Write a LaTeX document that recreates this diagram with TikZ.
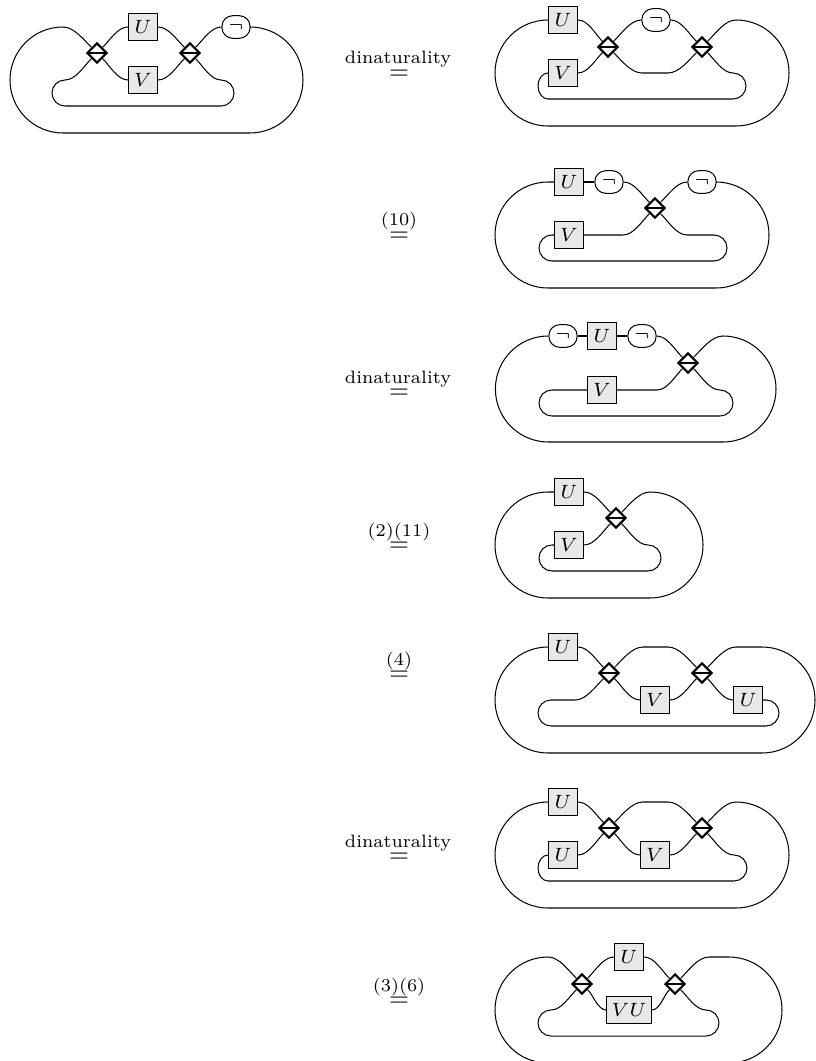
\documentclass[tikz,border=0pt]{standalone}
\usepackage{fix-cm}
\usepackage{amsmath,amssymb}
\usepackage{tikz}
\usetikzlibrary{positioning,shapes.geometric}
\begin{document}
\begin{tikzpicture}[x=0.39pt,y=0.39pt,line width=0.4pt,looseness=0.8,
  box/.style={draw,fill=black!9,inner sep=0pt,minimum width=11.3pt,minimum height=10.2pt,
    font=\fontsize{7.5}{9}\selectfont},
  widebox/.style={box,minimum width=17.2pt},
  negbox/.style={draw,fill=white,rounded corners=4.2pt,inner sep=0pt,minimum width=11pt,
    minimum height=8.8pt,font=\fontsize{7.5}{9}\selectfont},
  dia/.style={diamond,draw,fill=white,line width=0.8pt,inner sep=0pt,minimum width=7.8pt,
    minimum height=7.8pt,path picture={\draw[line width=0.8pt]
    (path picture bounding box.west) -- (path picture bounding box.east);}},
  eqsign/.style={anchor=base,inner sep=0pt},
  eqtext/.style={anchor=base,inner sep=0pt,font=\scriptsize}]
  \useasboundingbox (0,0) rectangle (815,-1061);

  \coordinate (ota) at (63,-27);
  \coordinate (oba) at (250,-133);
  \coordinate (ita) at (65,-80);
  \coordinate (iba) at (221,-106);
  \node[box] (ua) at (143,-27) {$U$};
  \node[box] (va) at (143,-80) {$V$};
  \node[negbox] (na) at (236,-27) {$\neg$};
  \node[dia] (pa) at (97,-53) {};
  \node[dia] (qa) at (190,-53) {};
  \draw (pa) to[out=135,in=0] (ota) arc[start angle=90,end angle=270,radius=53]
    -- (oba) arc[start angle=-90,end angle=90,radius=53] -- (na.east);
  \draw (pa) to[out=-135,in=0] (ita) arc[start angle=90,end angle=270,radius=13]
    -- (iba) arc[start angle=-90,end angle=90,radius=13] to[out=180,in=-45] (qa);
  \draw (pa) to[out=45,in=180] (ua.west);
  \draw (pa) to[out=-45,in=180] (va.west);
  \draw (ua.east) to[out=0,in=135] (qa);
  \draw (va.east) to[out=0,in=-135] (qa);
  \draw (qa) to[out=45,in=180] (na.west);

  \node[eqtext] (txa) at (398,-64) {dinaturality};
  \node[eqsign] (eqa) at (399,-79.4) {$=$};

  \coordinate (obb) at (736,-126);
  \coordinate (ibb) at (733,-99);
  \coordinate (mlb) at (642,-73);
  \coordinate (mrb) at (668,-73);
  \node[box] (ub) at (563,-20) {$U$};
  \node[box] (vb) at (563,-73) {$V$};
  \node[negbox] (nb) at (656,-20) {$\neg$};
  \node[dia] (pb) at (608,-47) {};
  \node[dia] (qb) at (702,-47) {};
  \draw (ub.west) arc[start angle=90,end angle=270,radius=53]
    -- (obb) arc[start angle=-90,end angle=90,radius=53] to[out=180,in=45] (qb);
  \draw (vb.west) arc[start angle=90,end angle=270,x radius=10,y radius=13]
    -- (ibb) arc[start angle=-90,end angle=90,radius=13] to[out=180,in=-45] (qb);
  \draw (ub.east) to[out=0,in=135] (pb);
  \draw (vb.east) to[out=0,in=-135] (pb);
  \draw (pb) to[out=45,in=180] (nb.west);
  \draw (nb.east) to[out=0,in=135] (qb);
  \draw (pb) to[out=-45,in=180] (mlb) -- (mrb) to[out=0,in=-135] (qb);

  \node[eqtext] (txb) at (399,-226) {(10)};
  \node[eqsign] (eqb) at (399,-241.4) {$=$};

  \coordinate (otc) at (548,-182);
  \coordinate (obc) at (716,-288);
  \coordinate (ilc) at (552,-235);
  \coordinate (ibc) at (714,-261);
  \coordinate (frc) at (687,-235);
  \coordinate (flc) at (623,-235);
  \node[box] (uc) at (569,-182) {$U$};
  \node[box] (vc) at (569,-235) {$V$};
  \node[negbox] (nc) at (609,-182) {$\neg$};
  \node[negbox] (mc) at (702,-182) {$\neg$};
  \node[dia] (pc) at (655,-208) {};
  \draw (uc.west) -- (otc) arc[start angle=90,end angle=270,radius=53]
    -- (obc) arc[start angle=-90,end angle=90,radius=53] -- (mc.east);
  \draw (vc.west) -- (ilc) arc[start angle=90,end angle=270,radius=13]
    -- (ibc) arc[start angle=-90,end angle=90,radius=13] -- (frc) to[out=180,in=-45] (pc);
  \draw (uc.east) -- (nc.west);
  \draw (nc.east) to[out=0,in=135] (pc);
  \draw (mc.west) to[out=180,in=45] (pc);
  \draw (vc.east) -- (flc) to[out=0,in=-135] (pc);

  \node[eqtext] (txc) at (398,-383) {dinaturality};
  \node[eqsign] (eqc) at (399,-398.4) {$=$};

  \coordinate (obd) at (723,-442);
  \coordinate (ild) at (552,-390);
  \coordinate (ibd) at (720,-416);
  \coordinate (ftd) at (657,-390);
  \node[negbox] (nd) at (563,-336) {$\neg$};
  \node[box] (ud) at (602,-336) {$U$};
  \node[negbox] (md) at (642,-336) {$\neg$};
  \node[box] (vd) at (602,-390) {$V$};
  \node[dia] (pd) at (688,-363) {};
  \draw (nd.west) arc[start angle=90,end angle=270,radius=53]
    -- (obd) arc[start angle=-90,end angle=90,radius=53] to[out=180,in=45] (pd);
  \draw (nd.east) -- (ud.west);
  \draw (ud.east) -- (md.west);
  \draw (md.east) to[out=0,in=135] (pd);
  \draw (vd.west) -- (ild) arc[start angle=90,end angle=270,radius=13]
    -- (ibd) arc[start angle=-90,end angle=90,radius=13] to[out=180,in=-45] (pd);
  \draw (vd.east) -- (ftd) to[out=0,in=-135] (pd);

  \node[eqtext] (txd) at (399,-536) {(2)(11)};
  \node[eqsign] (eqd) at (399,-551.4) {$=$};

  \coordinate (ote) at (548,-492);
  \coordinate (obe) at (650,-598);
  \coordinate (ile) at (552,-545);
  \coordinate (ibe) at (648,-571);
  \node[box] (ue) at (569,-492) {$U$};
  \node[box] (ve) at (569,-545) {$V$};
  \node[dia] (pe) at (616,-518) {};
  \draw (ue.west) -- (ote) arc[start angle=90,end angle=270,radius=53]
    -- (obe) arc[start angle=-90,end angle=90,radius=53] to[out=180,in=45] (pe);
  \draw (ve.west) -- (ile) arc[start angle=90,end angle=270,radius=13]
    -- (ibe) arc[start angle=-90,end angle=90,radius=13] to[out=180,in=-45] (pe);
  \draw (ue.east) to[out=0,in=135] (pe);
  \draw (ve.east) to[out=0,in=-135] (pe);

  \node[eqtext] (txe) at (399,-665) {(4)};
  \node[eqsign] (eqe) at (399,-680.4) {$=$};

  \coordinate (obf) at (762,-753);
  \coordinate (otf) at (736,-647);
  \coordinate (ilf) at (551,-726);
  \coordinate (irf) at (766,-700);
  \coordinate (flf) at (575,-700);
  \coordinate (mlf) at (643,-647);
  \coordinate (mrf) at (668,-647);
  \node[box] (uf) at (563,-647) {$U$};
  \node[box] (vf) at (655,-700) {$V$};
  \node[box] (wf) at (748,-700) {$U$};
  \node[dia] (pf) at (609,-673) {};
  \node[dia] (qf) at (702,-673) {};
  \draw (uf.west) arc[start angle=90,end angle=270,radius=53]
    -- (obf) arc[start angle=-90,end angle=90,radius=53] -- (otf) to[out=180,in=45] (qf);
  \draw (uf.east) to[out=0,in=135] (pf);
  \draw (pf) to[out=45,in=180] (mlf) -- (mrf) to[out=0,in=135] (qf);
  \draw (pf) to[out=-45,in=180] (vf.west);
  \draw (vf.east) to[out=0,in=-135] (qf);
  \draw (qf) to[out=-45,in=180] (wf.west);
  \draw (wf.east) -- (irf) arc[start angle=90,end angle=-90,radius=13]
    -- (ilf) arc[start angle=270,end angle=90,radius=13] -- (flf) to[out=0,in=-135] (pf);

  \node[eqtext] (txf) at (398,-847) {dinaturality};
  \node[eqsign] (eqf) at (399,-862.4) {$=$};

  \coordinate (obg) at (736,-908);
  \coordinate (ibg) at (734,-881);
  \coordinate (mlg) at (643,-802);
  \coordinate (mrg) at (668,-802);
  \node[box] (ug) at (563,-802) {$U$};
  \node[box] (wg) at (563,-855) {$U$};
  \node[box] (vg) at (655,-855) {$V$};
  \node[dia] (pg) at (609,-828) {};
  \node[dia] (qg) at (702,-828) {};
  \draw (ug.west) arc[start angle=90,end angle=270,radius=53]
    -- (obg) arc[start angle=-90,end angle=90,radius=53] to[out=180,in=45] (qg);
  \draw (wg.west) arc[start angle=90,end angle=270,x radius=10,y radius=13]
    -- (ibg) arc[start angle=-90,end angle=90,radius=13] to[out=180,in=-45] (qg);
  \draw (ug.east) to[out=0,in=135] (pg);
  \draw (wg.east) to[out=0,in=-135] (pg);
  \draw (pg) to[out=45,in=180] (mlg) -- (mrg) to[out=0,in=135] (qg);
  \draw (pg) to[out=-45,in=180] (vg.west);
  \draw (vg.east) to[out=0,in=-135] (qg);

  \node[eqtext] (txg) at (399,-991) {(3)(6)};
  \node[eqsign] (eqg) at (399,-1006.4) {$=$};

  \coordinate (oth) at (548,-957);
  \coordinate (obh) at (729,-1063);
  \coordinate (trh) at (709,-957);
  \coordinate (ith) at (551,-1010);
  \coordinate (ibh) at (706,-1036);
  \node[box] (uh) at (629,-957) {$U$};
  \node[widebox] (vh) at (629,-1010) {$VU$};
  \node[dia] (ph) at (582,-984) {};
  \node[dia] (qh) at (675,-984) {};
  \draw (ph) to[out=135,in=0] (oth) arc[start angle=90,end angle=270,radius=53]
    -- (obh) arc[start angle=-90,end angle=90,radius=53] -- (trh) to[out=180,in=45] (qh);
  \draw (ph) to[out=-135,in=0] (ith) arc[start angle=90,end angle=270,radius=13]
    -- (ibh) arc[start angle=-90,end angle=90,radius=13] to[out=180,in=-45] (qh);
  \draw (ph) to[out=45,in=180] (uh.west);
  \draw (uh.east) to[out=0,in=135] (qh);
  \draw (ph) to[out=-45,in=180] (vh.west);
  \draw (vh.east) to[out=0,in=-135] (qh);
\end{tikzpicture}
\end{document}
